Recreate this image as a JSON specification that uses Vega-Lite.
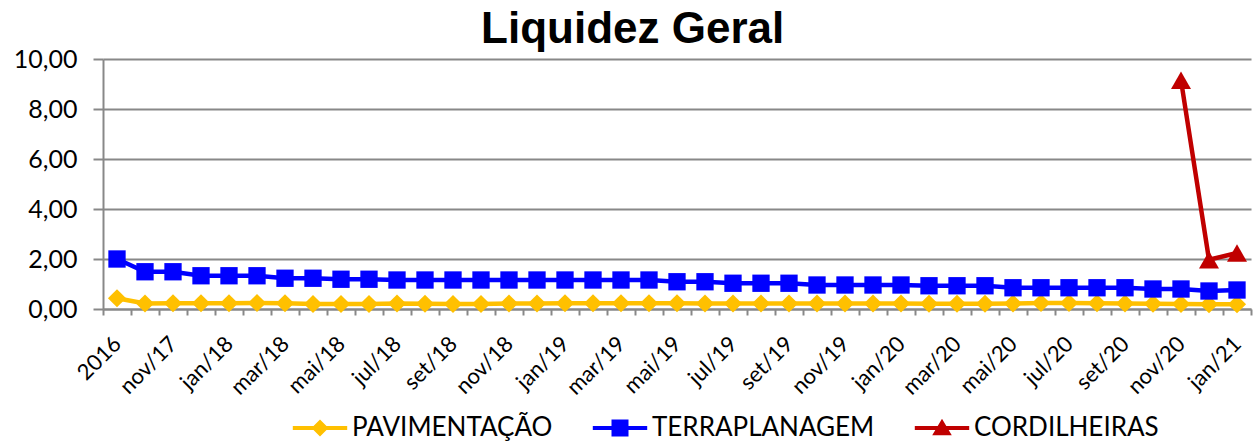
{
  "$schema": "https://vega.github.io/schema/vega-lite/v6.json",
  "width": 1148,
  "height": 250,
  "autosize": {"type": "none"},
  "padding": {"left": 103, "top": 59, "right": 7, "bottom": 135},
  "background": "white",
  "title": {"text": "Liquidez Geral", "font": "Liberation Sans", "fontSize": 44, "fontWeight": "bold", "color": "#000000", "anchor": "middle", "frame": "bounds", "offset": -5},
  "datasets": {
    "rows": [
      {"m": "2016", "s": "PAVIMENTAÇÃO", "v": 0.43}, {"m": "out/17", "s": "PAVIMENTAÇÃO", "v": 0.22}, {"m": "nov/17", "s": "PAVIMENTAÇÃO", "v": 0.23}, {"m": "dez/17", "s": "PAVIMENTAÇÃO", "v": 0.23},
      {"m": "jan/18", "s": "PAVIMENTAÇÃO", "v": 0.23}, {"m": "fev/18", "s": "PAVIMENTAÇÃO", "v": 0.24}, {"m": "mar/18", "s": "PAVIMENTAÇÃO", "v": 0.23}, {"m": "abr/18", "s": "PAVIMENTAÇÃO", "v": 0.2},
      {"m": "mai/18", "s": "PAVIMENTAÇÃO", "v": 0.2}, {"m": "jun/18", "s": "PAVIMENTAÇÃO", "v": 0.2}, {"m": "jul/18", "s": "PAVIMENTAÇÃO", "v": 0.22}, {"m": "ago/18", "s": "PAVIMENTAÇÃO", "v": 0.21},
      {"m": "set/18", "s": "PAVIMENTAÇÃO", "v": 0.2}, {"m": "out/18", "s": "PAVIMENTAÇÃO", "v": 0.2}, {"m": "nov/18", "s": "PAVIMENTAÇÃO", "v": 0.22}, {"m": "dez/18", "s": "PAVIMENTAÇÃO", "v": 0.22},
      {"m": "jan/19", "s": "PAVIMENTAÇÃO", "v": 0.23}, {"m": "fev/19", "s": "PAVIMENTAÇÃO", "v": 0.23}, {"m": "mar/19", "s": "PAVIMENTAÇÃO", "v": 0.23}, {"m": "abr/19", "s": "PAVIMENTAÇÃO", "v": 0.23},
      {"m": "mai/19", "s": "PAVIMENTAÇÃO", "v": 0.23}, {"m": "jun/19", "s": "PAVIMENTAÇÃO", "v": 0.22}, {"m": "jul/19", "s": "PAVIMENTAÇÃO", "v": 0.22}, {"m": "ago/19", "s": "PAVIMENTAÇÃO", "v": 0.22},
      {"m": "set/19", "s": "PAVIMENTAÇÃO", "v": 0.22}, {"m": "out/19", "s": "PAVIMENTAÇÃO", "v": 0.22}, {"m": "nov/19", "s": "PAVIMENTAÇÃO", "v": 0.22}, {"m": "dez/19", "s": "PAVIMENTAÇÃO", "v": 0.22},
      {"m": "jan/20", "s": "PAVIMENTAÇÃO", "v": 0.22}, {"m": "fev/20", "s": "PAVIMENTAÇÃO", "v": 0.21}, {"m": "mar/20", "s": "PAVIMENTAÇÃO", "v": 0.21}, {"m": "abr/20", "s": "PAVIMENTAÇÃO", "v": 0.21},
      {"m": "mai/20", "s": "PAVIMENTAÇÃO", "v": 0.22}, {"m": "jun/20", "s": "PAVIMENTAÇÃO", "v": 0.24}, {"m": "jul/20", "s": "PAVIMENTAÇÃO", "v": 0.24}, {"m": "ago/20", "s": "PAVIMENTAÇÃO", "v": 0.23},
      {"m": "set/20", "s": "PAVIMENTAÇÃO", "v": 0.22}, {"m": "out/20", "s": "PAVIMENTAÇÃO", "v": 0.21}, {"m": "nov/20", "s": "PAVIMENTAÇÃO", "v": 0.2}, {"m": "dez/20", "s": "PAVIMENTAÇÃO", "v": 0.19},
      {"m": "jan/21", "s": "PAVIMENTAÇÃO", "v": 0.19},
      {"m": "2016", "s": "TERRAPLANAGEM", "v": 2.0}, {"m": "out/17", "s": "TERRAPLANAGEM", "v": 1.49}, {"m": "nov/17", "s": "TERRAPLANAGEM", "v": 1.49}, {"m": "dez/17", "s": "TERRAPLANAGEM", "v": 1.33},
      {"m": "jan/18", "s": "TERRAPLANAGEM", "v": 1.33}, {"m": "fev/18", "s": "TERRAPLANAGEM", "v": 1.33}, {"m": "mar/18", "s": "TERRAPLANAGEM", "v": 1.23}, {"m": "abr/18", "s": "TERRAPLANAGEM", "v": 1.23},
      {"m": "mai/18", "s": "TERRAPLANAGEM", "v": 1.19}, {"m": "jun/18", "s": "TERRAPLANAGEM", "v": 1.19}, {"m": "jul/18", "s": "TERRAPLANAGEM", "v": 1.16}, {"m": "ago/18", "s": "TERRAPLANAGEM", "v": 1.16},
      {"m": "set/18", "s": "TERRAPLANAGEM", "v": 1.16}, {"m": "out/18", "s": "TERRAPLANAGEM", "v": 1.16}, {"m": "nov/18", "s": "TERRAPLANAGEM", "v": 1.16}, {"m": "dez/18", "s": "TERRAPLANAGEM", "v": 1.16},
      {"m": "jan/19", "s": "TERRAPLANAGEM", "v": 1.16}, {"m": "fev/19", "s": "TERRAPLANAGEM", "v": 1.16}, {"m": "mar/19", "s": "TERRAPLANAGEM", "v": 1.16}, {"m": "abr/19", "s": "TERRAPLANAGEM", "v": 1.16},
      {"m": "mai/19", "s": "TERRAPLANAGEM", "v": 1.09}, {"m": "jun/19", "s": "TERRAPLANAGEM", "v": 1.09}, {"m": "jul/19", "s": "TERRAPLANAGEM", "v": 1.03}, {"m": "ago/19", "s": "TERRAPLANAGEM", "v": 1.03},
      {"m": "set/19", "s": "TERRAPLANAGEM", "v": 1.03}, {"m": "out/19", "s": "TERRAPLANAGEM", "v": 0.96}, {"m": "nov/19", "s": "TERRAPLANAGEM", "v": 0.96}, {"m": "dez/19", "s": "TERRAPLANAGEM", "v": 0.96},
      {"m": "jan/20", "s": "TERRAPLANAGEM", "v": 0.96}, {"m": "fev/20", "s": "TERRAPLANAGEM", "v": 0.93}, {"m": "mar/20", "s": "TERRAPLANAGEM", "v": 0.93}, {"m": "abr/20", "s": "TERRAPLANAGEM", "v": 0.93},
      {"m": "mai/20", "s": "TERRAPLANAGEM", "v": 0.85}, {"m": "jun/20", "s": "TERRAPLANAGEM", "v": 0.85}, {"m": "jul/20", "s": "TERRAPLANAGEM", "v": 0.85}, {"m": "ago/20", "s": "TERRAPLANAGEM", "v": 0.85},
      {"m": "set/20", "s": "TERRAPLANAGEM", "v": 0.85}, {"m": "out/20", "s": "TERRAPLANAGEM", "v": 0.8}, {"m": "nov/20", "s": "TERRAPLANAGEM", "v": 0.8}, {"m": "dez/20", "s": "TERRAPLANAGEM", "v": 0.72},
      {"m": "jan/21", "s": "TERRAPLANAGEM", "v": 0.76},
      {"m": "nov/20", "s": "CORDILHEIRAS", "v": 9.15}, {"m": "dez/20", "s": "CORDILHEIRAS", "v": 1.97}, {"m": "jan/21", "s": "CORDILHEIRAS", "v": 2.24}
    ]
  },
  "data": {"name": "rows"},
  "encoding": {
    "x": {
      "field": "m", "type": "ordinal",
      "scale": {"type": "band", "paddingInner": 0, "paddingOuter": 0, "domain": ["2016","out/17","nov/17","dez/17","jan/18","fev/18","mar/18","abr/18","mai/18","jun/18","jul/18","ago/18","set/18","out/18","nov/18","dez/18","jan/19","fev/19","mar/19","abr/19","mai/19","jun/19","jul/19","ago/19","set/19","out/19","nov/19","dez/19","jan/20","fev/20","mar/20","abr/20","mai/20","jun/20","jul/20","ago/20","set/20","out/20","nov/20","dez/20","jan/21"]},
      "axis": {
        "title": null, "labelAngle": -45, "labelAlign": "right", "labelBaseline": "middle",
        "labelExpr": "test(/^(2016|jan|mar|mai|jul|set|nov)/, datum.label) ? datum.label : ''",
        "labelFont": "Lato", "labelFontSize": 22, "labelColor": "#000000", "labelPadding": 25,
        "tickBand": "extent", "tickSize": 6, "tickColor": "#888888", "tickWidth": 2,
        "domainColor": "#888888", "domainWidth": 2, "grid": false, "labelOverlap": false
      }
    },
    "y": {
      "field": "v", "type": "quantitative",
      "scale": {"domain": [0, 10], "nice": false, "zero": true},
      "axis": {
        "title": null, "values": [0, 2, 4, 6, 8, 10],
        "labelExpr": "replace(format(datum.value, '.2f'), '.', ',')",
        "labelFont": "Lato", "labelFontSize": 25, "labelColor": "#000000", "labelPadding": 16,
        "tickSize": 10, "tickColor": "#888888", "tickWidth": 2,
        "domainColor": "#888888", "domainWidth": 2,
        "grid": true, "gridColor": "#888888", "gridWidth": 2
      }
    }
  },
  "layer": [
    {
      "transform": [{"filter": "datum.s === 'PAVIMENTAÇÃO'"}],
      "mark": {"type": "line", "color": "#FFC000", "strokeWidth": 4.5, "point": {"shape": "diamond", "filled": true, "size": 330, "color": "#FFC000", "opacity": 1}}
    },
    {
      "transform": [{"filter": "datum.s === 'TERRAPLANAGEM'"}],
      "mark": {"type": "line", "color": "#0000FF", "strokeWidth": 4.5, "point": {"shape": "square", "filled": true, "size": 300, "color": "#0000FF", "opacity": 1}}
    },
    {
      "transform": [{"filter": "datum.s === 'CORDILHEIRAS'"}],
      "mark": {"type": "line", "color": "#C00000", "strokeWidth": 4.5, "point": {"shape": "triangle-up", "filled": true, "size": 400, "color": "#C00000", "opacity": 1}}
    },
    {
      "transform": [{"filter": "datum.v < 0"}],
      "mark": {"type": "point", "filled": true, "opacity": 1},
      "encoding": {
        "color": {"field": "s", "type": "nominal", "scale": {"domain": ["PAVIMENTAÇÃO", "TERRAPLANAGEM", "CORDILHEIRAS"], "range": ["#FFC000", "#0000FF", "#C00000"]}, "legend": {
          "title": null, "orient": "none", "direction": "horizontal", "legendX": 185, "legendY": 356,
          "labelFont": "Lato", "labelFontSize": 26, "labelColor": "#000000", "labelLimit": 400,
          "symbolSize": 289, "symbolOffset": 19, "labelOffset": 19, "columnPadding": 35, "padding": 0, "symbolStrokeWidth": 0
        }},
        "shape": {"field": "s", "type": "nominal", "scale": {"domain": ["PAVIMENTAÇÃO", "TERRAPLANAGEM", "CORDILHEIRAS"], "range": [
          "M-3.2,-0.24H3.2V0.24H-3.2Z M0,-1L1,0L0,1L-1,0Z",
          "M-3.2,-0.24H3.2V0.24H-3.2Z M-1,-1H1V1H-1Z",
          "M-3.2,-0.24H3.2V0.24H-3.2Z M0,-1.1L1.15,0.85L-1.15,0.85Z"
        ]}, "legend": {
          "title": null, "orient": "none", "direction": "horizontal", "legendX": 185, "legendY": 356,
          "labelFont": "Lato", "labelFontSize": 26, "labelColor": "#000000", "labelLimit": 400,
          "symbolSize": 289, "symbolOffset": 19, "labelOffset": 19, "columnPadding": 35, "padding": 0, "symbolStrokeWidth": 0
        }}
      }
    }
  ],
  "config": {"view": {"stroke": null}}
}
